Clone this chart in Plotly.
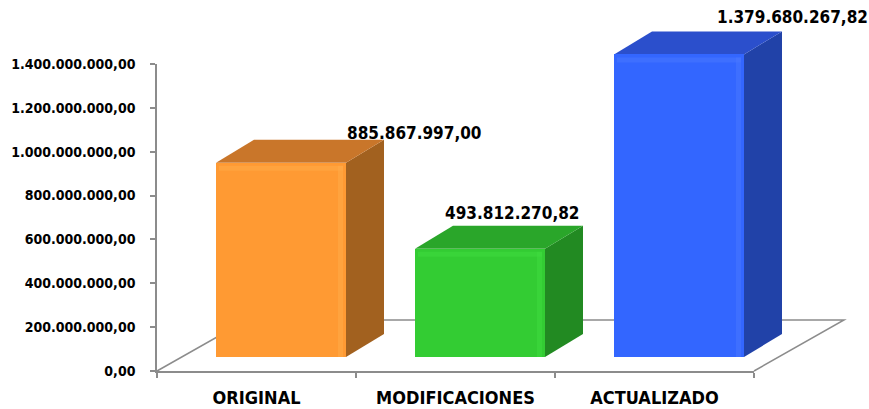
import plotly.graph_objects as go

# ---------------- data ----------------
categories = ["ORIGINAL", "MODIFICACIONES", "ACTUALIZADO"]
values = [885867997.00, 493812270.82, 1379680267.82]
value_labels = ["885.867.997,00", "493.812.270,82", "1.379.680.267,82"]
tick_values = [0, 200e6, 400e6, 600e6, 800e6, 1000e6, 1200e6, 1400e6]
tick_labels = ["0,00", "200.000.000,00", "400.000.000,00", "600.000.000,00",
               "800.000.000,00", "1.000.000.000,00", "1.200.000.000,00",
               "1.400.000.000,00"]

# ---------------- styles ----------------
front_colors = ["#FF9A33", "#33CC33", "#3366FF"]
light_colors = ["#FFAC4A", "#40DC40", "#4A78FF"]
side_colors = ["#A2611F", "#228A22", "#2142A8"]
top_colors = ["#C9762A", "#2AA62A", "#2B4FCC"]
label_offsets = [(64, 30), (-37, 36), (36, 37)]   # px shift of value labels

W, H = 869, 409
AX_LEFT, AX_RIGHT = 157, 754      # front plane category axis (px)
AX_BOTTOM, AX_TOP = 371, 64       # front plane value axis (px)
Y_MAX = 1.4e9
PX_PER_VAL = (AX_BOTTOM - AX_TOP) / Y_MAX
CAT_W = (AX_RIGHT - AX_LEFT) / 3
FLOOR_DX, FLOOR_DY = 90, 51       # floor depth (px)
BAR_DX0, BAR_DY0 = 24.5, 14       # bar front offset from the front plane (px)
BAR_W = 130                       # bar front width (px)
BAR_DX, BAR_DY = 38, 23           # bar depth (px)
AXIS_COLOR = "#8C8C8C"

NUM_FONT = dict(family="DejaVu Sans Condensed, DejaVu Sans", color="#000000", weight=700)
CAT_FONT = dict(family="DejaVu Sans Condensed, DejaVu Sans", color="#000000",
                size=18, weight=700)

# main (bar plane) axes ranges: full figure
x0 = (0 - AX_LEFT - BAR_DX0) / CAT_W - 0.5
x1 = (W - AX_LEFT - BAR_DX0) / CAT_W - 0.5
v0 = (AX_BOTTOM - BAR_DY0 - H) / PX_PER_VAL
v1 = (AX_BOTTOM - BAR_DY0) / PX_PER_VAL
dxu = BAR_DX / CAT_W
dyu = BAR_DY / PX_PER_VAL
bw = BAR_W / CAT_W


def px_to_paper(px, py):
    return px / W, 1 - py / H


fig = go.Figure()

# front faces of the bars
fig.add_trace(go.Bar(
    x=list(range(len(categories))), y=values, width=bw,
    marker=dict(color=front_colors, line=dict(width=0)),
    xaxis="x", yaxis="y", hoverinfo="skip", showlegend=False, cliponaxis=False,
))

# dummy trace for the front-plane axes
fig.add_trace(go.Scatter(
    x=categories, y=[None] * len(categories), xaxis="x2", yaxis="y2",
    mode="markers", hoverinfo="skip", showlegend=False,
))

shapes = []
# floor
fl = px_to_paper(AX_LEFT, AX_BOTTOM)
bl = px_to_paper(AX_LEFT + FLOOR_DX, AX_BOTTOM - FLOOR_DY)
br = px_to_paper(AX_RIGHT + FLOOR_DX, AX_BOTTOM - FLOOR_DY)
fr = px_to_paper(AX_RIGHT, AX_BOTTOM)
shapes.append(dict(
    type="path", xref="paper", yref="paper", layer="below",
    path=f"M {fl[0]},{fl[1]} L {bl[0]},{bl[1]} L {br[0]},{br[1]} L {fr[0]},{fr[1]}",
    line=dict(color=AXIS_COLOR, width=1.5),
))

hl_w = 5 / CAT_W          # highlight strip width (px -> x units)
hl_in = 3 / CAT_W
hl_h = 5 / PX_PER_VAL
hl_top_in = 3 / PX_PER_VAL
for i, v in enumerate(values):
    xl, xr = i - bw / 2, i + bw / 2
    # side face
    shapes.append(dict(
        type="path", xref="x", yref="y", layer="below",
        path=f"M {xr},0 L {xr},{v} L {xr + dxu},{v + dyu} L {xr + dxu},{dyu} Z",
        fillcolor=side_colors[i], line=dict(width=0),
    ))
    # top face
    shapes.append(dict(
        type="path", xref="x", yref="y", layer="below",
        path=f"M {xl},{v} L {xr},{v} L {xr + dxu},{v + dyu} L {xl + dxu},{v + dyu} Z",
        fillcolor=top_colors[i], line=dict(width=0),
    ))
    # soft bevel highlights on the front face
    shapes.append(dict(
        type="rect", xref="x", yref="y", layer="above",
        x0=xr - hl_in - hl_w, x1=xr - hl_in, y0=0, y1=v - hl_top_in,
        fillcolor=light_colors[i], line=dict(width=0), opacity=0.5,
    ))
    shapes.append(dict(
        type="rect", xref="x", yref="y", layer="above",
        x0=xl + hl_in, x1=xr - hl_in, y0=v - hl_top_in - hl_h, y1=v - hl_top_in,
        fillcolor=light_colors[i], line=dict(width=0), opacity=0.5,
    ))

annotations = []
for i, v in enumerate(values):
    sx, sy = label_offsets[i]
    annotations.append(dict(
        x=i, y=v, xref="x", yref="y", text=value_labels[i], showarrow=False,
        xanchor="left", yanchor="middle", xshift=sx, yshift=sy,
        font=dict(size=17, **NUM_FONT),
    ))

fig.update_layout(
    template="none",
    width=W, height=H, autosize=False,
    margin=dict(l=0, r=0, t=0, b=0, pad=0, autoexpand=False),
    paper_bgcolor="#FFFFFF", plot_bgcolor="rgba(0,0,0,0)",
    showlegend=False, bargap=0,
    shapes=shapes, annotations=annotations,
    xaxis=dict(domain=[0, 1], range=[x0, x1], visible=False, fixedrange=True,
               automargin=False),
    yaxis=dict(domain=[0, 1], range=[v0, v1], visible=False, fixedrange=True,
               automargin=False),
    xaxis2=dict(
        type="category", domain=[AX_LEFT / W, AX_RIGHT / W], anchor="y2",
        range=[-0.5, len(categories) - 0.5], categoryorder="array", categoryarray=categories,
        tickson="boundaries", ticks="outside", ticklen=5, tickwidth=1.5, tickcolor=AXIS_COLOR,
        showline=True, linecolor=AXIS_COLOR, linewidth=1.5, showgrid=False, zeroline=False,
        tickfont=CAT_FONT, ticklabelstandoff=10, automargin=False, fixedrange=True,
    ),
    yaxis2=dict(
        domain=[(H - AX_BOTTOM) / H, (H - AX_TOP) / H], anchor="x2",
        range=[0, Y_MAX], tickvals=tick_values, ticktext=tick_labels,
        ticks="outside", ticklen=5, tickwidth=1.5, tickcolor=AXIS_COLOR,
        showline=True, linecolor=AXIS_COLOR, linewidth=1.5, showgrid=False, zeroline=False,
        tickfont=dict(size=14, **NUM_FONT), ticklabelstandoff=12, automargin=False,
        fixedrange=True,
    ),
)

fig.write_html("out.html")
